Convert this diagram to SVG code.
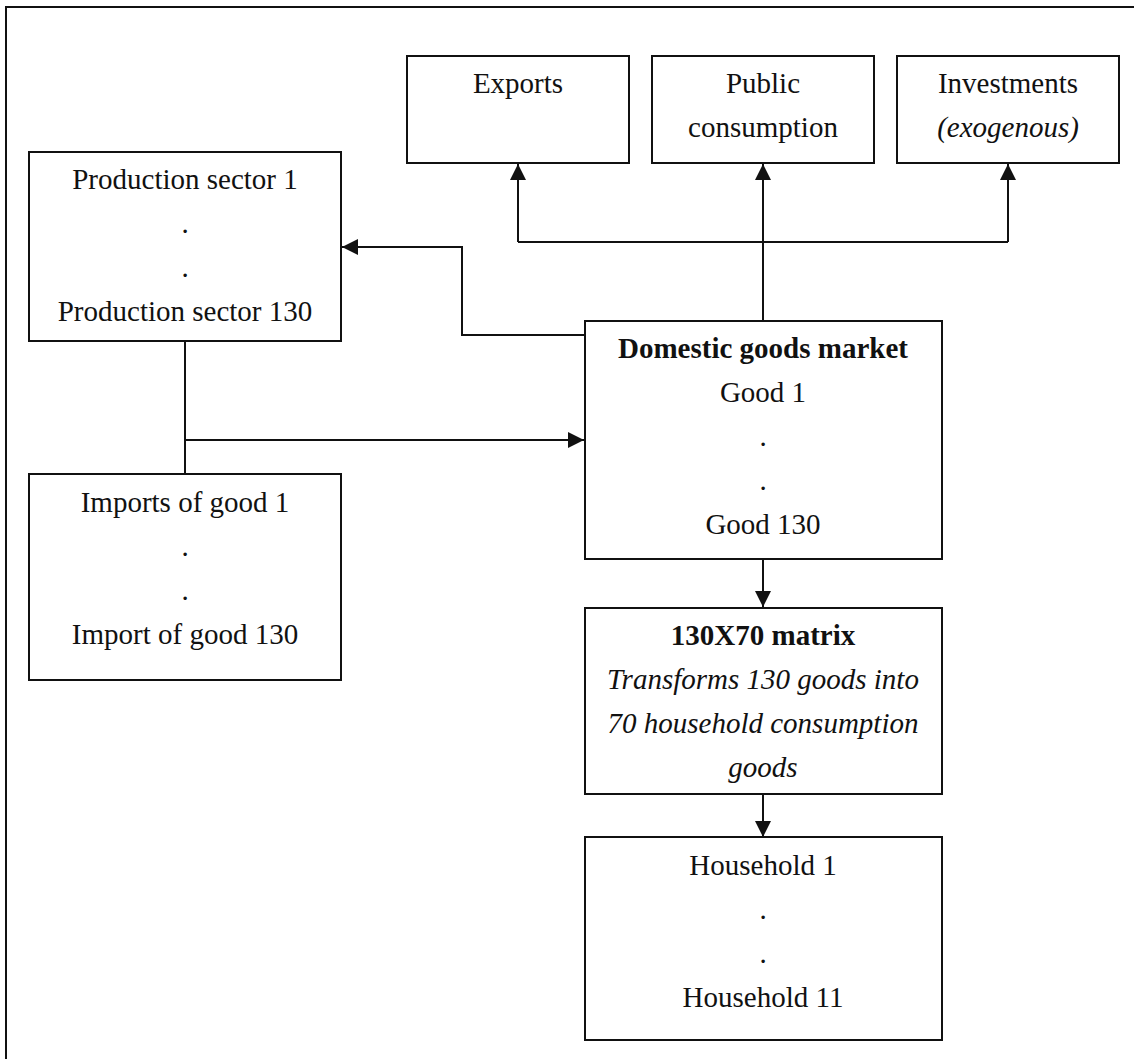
<svg xmlns="http://www.w3.org/2000/svg" width="1134" height="1059" viewBox="0 0 1134 1059">
<defs>
<style>
.box{fill:#fff;stroke:#111;stroke-width:2}
.ln{fill:none;stroke:#111;stroke-width:2}
text{font-family:"Liberation Serif","Times New Roman",serif;font-size:29px;fill:#111;text-anchor:middle}
.b{font-weight:bold}
.i{font-style:italic}
</style>
<marker id="ah" viewBox="0 0 16 16" refX="16" refY="8" markerWidth="16" markerHeight="16" markerUnits="userSpaceOnUse" orient="auto">
<path d="M0,0 L16,8 L0,16 Z" fill="#111"/>
</marker>
</defs>
<rect x="0" y="0" width="1134" height="1059" fill="#fff"/>
<path class="ln" d="M6,1059 L6,7 L1134,7"/>

<g id="connectors">
<path class="ln" d="M763,321 L763,164" marker-end="url(#ah)"/>
<path class="ln" d="M518,242 L1008,242"/>
<path class="ln" d="M518,242 L518,164" marker-end="url(#ah)"/>
<path class="ln" d="M1008,242 L1008,164" marker-end="url(#ah)"/>
<path class="ln" d="M585,335 L462,335 L462,247 L342,247" marker-end="url(#ah)"/>
<path class="ln" d="M185,341 L185,474"/>
<path class="ln" d="M185,440 L584,440" marker-end="url(#ah)"/>
<path class="ln" d="M763,559 L763,607" marker-end="url(#ah)"/>
<path class="ln" d="M763,794 L763,837" marker-end="url(#ah)"/>
</g>

<g id="exports">
<rect class="box" x="407" y="56" width="222" height="107"/>
<text x="518" y="93">Exports</text>
</g>
<g id="public">
<rect class="box" x="652" y="56" width="222" height="107"/>
<text x="763" y="93">Public</text>
<text x="763" y="137">consumption</text>
</g>
<g id="investments">
<rect class="box" x="897" y="56" width="222" height="107"/>
<text x="1008" y="93">Investments</text>
<text x="1008" y="137" class="i">(exogenous)</text>
</g>
<g id="production">
<rect class="box" x="29" y="152" width="312" height="189"/>
<text x="185" y="189">Production sector 1</text>
<text x="185" y="233">.</text>
<text x="185" y="277">.</text>
<text x="185" y="321">Production sector 130</text>
</g>
<g id="imports">
<rect class="box" x="29" y="474" width="312" height="206"/>
<text x="185" y="512">Imports of good 1</text>
<text x="185" y="556">.</text>
<text x="185" y="600">.</text>
<text x="185" y="644">Import of good 130</text>
</g>
<g id="market">
<rect class="box" x="585" y="321" width="357" height="238"/>
<text x="763" y="358" class="b">Domestic goods market</text>
<text x="763" y="402">Good 1</text>
<text x="763" y="446">.</text>
<text x="763" y="490">.</text>
<text x="763" y="534">Good 130</text>
</g>
<g id="matrix">
<rect class="box" x="585" y="608" width="357" height="186"/>
<text x="763" y="645" class="b">130X70 matrix</text>
<text x="763" y="689" class="i">Transforms 130 goods into</text>
<text x="763" y="733" class="i">70 household consumption</text>
<text x="763" y="777" class="i">goods</text>
</g>
<g id="households">
<rect class="box" x="585" y="837" width="357" height="203"/>
<text x="763" y="875">Household 1</text>
<text x="763" y="919">.</text>
<text x="763" y="963">.</text>
<text x="763" y="1007">Household 11</text>
</g>
</svg>
